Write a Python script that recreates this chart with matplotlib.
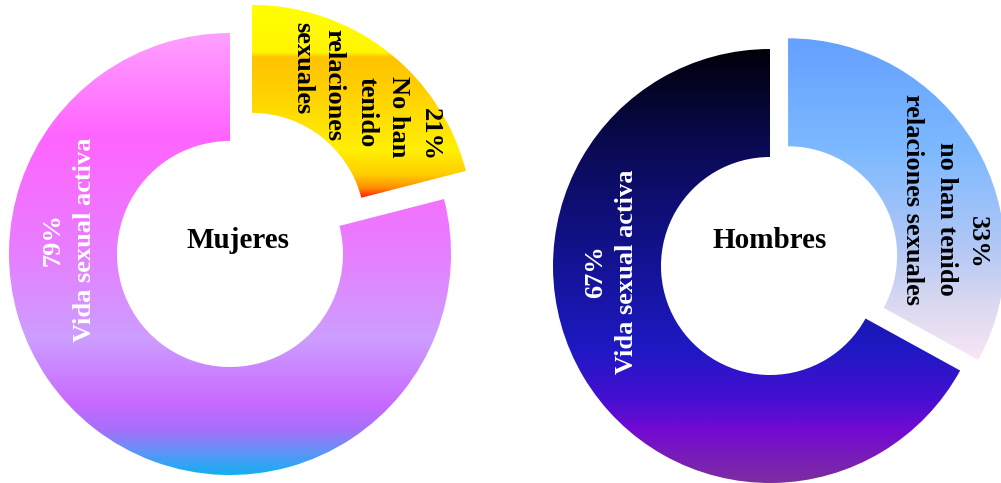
import numpy as np
import matplotlib
matplotlib.use("Agg")
import matplotlib.pyplot as plt
from matplotlib.colors import LinearSegmentedColormap

# ---- data ----
groups = ["Mujeres", "Hombres"]
mujeres_values = [21, 79]
hombres_values = [33, 67]
mujeres_labels = ["21%\nNo han\ntenido\nrelaciones\nsexuales", "79%\nVida sexual activa"]
hombres_labels = ["33%\nno han tenido\nrelaciones sexuales", "67%\nVida sexual activa"]

W, H = 1001, 483
fig = plt.figure(figsize=(W / 100, H / 100), dpi=100)
ax = fig.add_axes([0, 0, 1, 1])

FONT = "Liberation Serif"


def grad_fill(ax, wedge, stops):
    """Fill wedge with vertical gradient; stops = list of (frac_from_top, (r,g,b))."""
    bb = wedge.get_path().get_extents()
    cmap = LinearSegmentedColormap.from_list(
        "g", [(f, tuple(c / 255 for c in col)) for f, col in stops])
    grad = np.linspace(0, 1, 512).reshape(-1, 1)
    im = ax.imshow(grad, cmap=cmap, aspect="auto", origin="upper",
                   extent=[bb.x0, bb.x1, bb.y0, bb.y1], interpolation="bilinear",
                   zorder=2)
    im.set_clip_path(wedge)
    wedge.set_facecolor("none")


# ---- Mujeres donut ----
cx1, cy1, r1, w1 = 230, H - 254, 221, 108
wm, _ = ax.pie(mujeres_values, center=(cx1, cy1), radius=r1, startangle=90,
               counterclock=False, explode=[35.6, 0],
               wedgeprops=dict(width=w1, edgecolor="none", linewidth=0))

grad_fill(ax, wm[0], [(0.0, (255, 255, 0)), (0.245, (255, 245, 0)), (0.27, (255, 195, 0)),
                      (0.44, (255, 208, 0)), (0.75, (255, 240, 0)), (0.88, (255, 205, 0)),
                      (0.95, (255, 140, 0)), (1.0, (255, 30, 0))])
grad_fill(ax, wm[1], [(0.0, (255, 160, 255)), (0.23, (255, 100, 255)), (0.49, (232, 125, 255)),
                      (0.69, (205, 158, 255)), (0.84, (200, 105, 255)), (0.9, (165, 112, 250)),
                      (0.95, (95, 148, 248)), (1.0, (20, 175, 240))])

# ---- Hombres donut ----
cx2, cy2, r2, w2 = 770, H - 266, 217, 108
wh, _ = ax.pie(hombres_values, center=(cx2, cy2), radius=r2, startangle=90,
               counterclock=False, explode=[21, 0],
               wedgeprops=dict(width=w2, edgecolor="none", linewidth=0))

grad_fill(ax, wh[0], [(0.0, (100, 160, 255)), (0.35, (125, 185, 255)), (0.66, (180, 200, 245)),
                      (0.81, (215, 215, 240)), (1.0, (248, 230, 245))])
grad_fill(ax, wh[1], [(0.0, (0, 0, 10)), (0.23, (10, 10, 85)), (0.46, (18, 18, 140)),
                      (0.69, (30, 25, 195)), (0.81, (70, 15, 210)), (0.88, (115, 10, 210)),
                      (1.0, (125, 45, 160))])

ax.set_xlim(0, W)
ax.set_ylim(0, H)
ax.set_aspect("auto")
ax.axis("off")

# ---- centre titles ----
ax.text(cx1 + 8, H - 241, groups[0], ha="center", va="center", fontsize=21,
        fontweight="bold", family=FONT, color="black", zorder=5)
ax.text(cx2, H - 240, groups[1], ha="center", va="center", fontsize=21,
        fontweight="bold", family=FONT, color="black", zorder=5)

# ---- slice labels ----
kw = dict(fontsize=19, fontweight="bold", family=FONT, zorder=5,
          va="center", ha="center")

# Mujeres active (white, rotated 90)
ax.text(69, H - 240, mujeres_labels[1], rotation=90, color="white",
        linespacing=1.45, multialignment="center", **kw)

# Mujeres "no han" lines (rotated -90), each line placed individually
m_lines = mujeres_labels[0].split("\n")
m_pos = [(430, 135), (398, 117), (367, 112), (334, 85), (303, 68)]
for t, (x, y) in zip(m_lines, m_pos):
    ax.text(x, H - y, t, rotation=-90, color="black", **kw)

# Hombres active (white, rotated 90)
ax.text(611, H - 272, hombres_labels[1], rotation=90, color="white",
        linespacing=1.45, multialignment="center", **kw)

h_lines = hombres_labels[0].split("\n")
h_pos = [(977, 242), (947, 219), (913, 199)]
for t, (x, y) in zip(h_lines, h_pos):
    ax.text(x, H - y, t, rotation=-90, color="black", **kw)

fig.savefig("out.png", dpi=100)
